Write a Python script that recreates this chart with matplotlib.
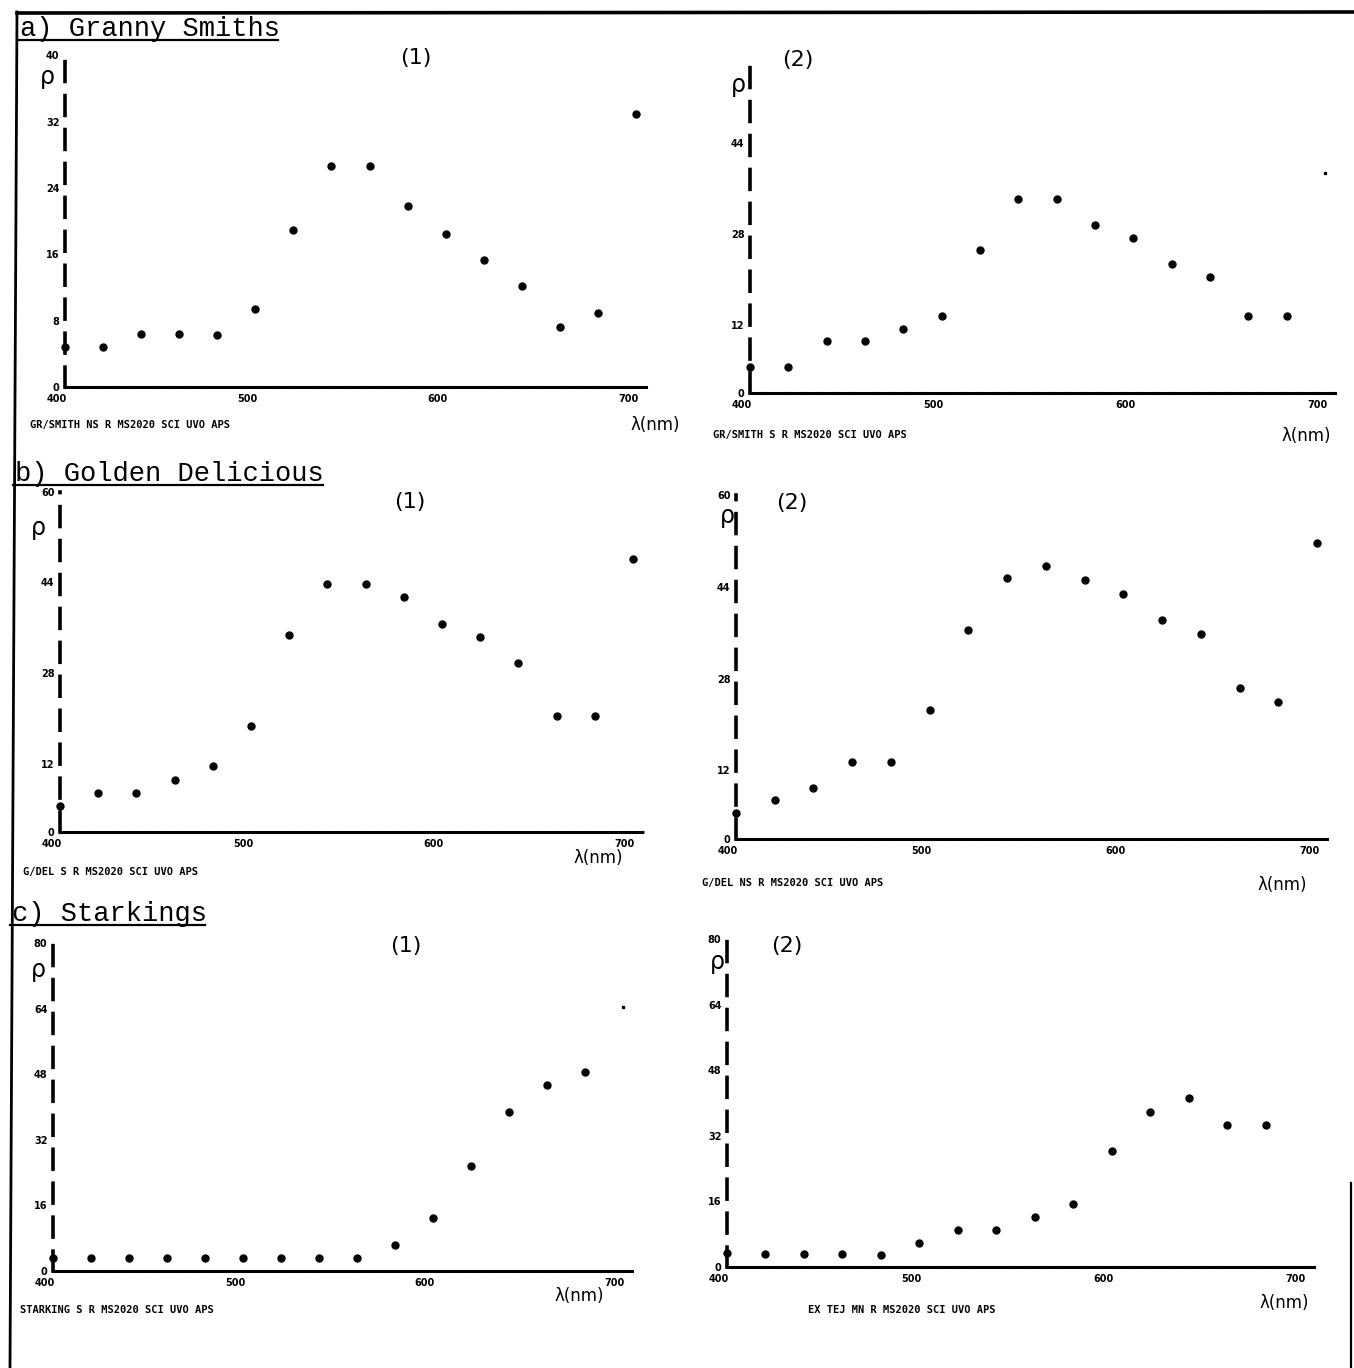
import matplotlib
matplotlib.use("Agg")
import matplotlib.pyplot as plt
from matplotlib.lines import Line2D
from matplotlib.transforms import ScaledTranslation

# ---------------- data ----------------
wavelengths = [400, 420, 440, 460, 480, 500, 520, 540, 560, 580, 600, 620, 640, 660, 680, 700]

granny_1 = [4.8, 4.8, 6.4, 6.4, 6.3, 9.4, 18.9, 26.7, 26.7, 21.8, 18.5, 15.3, 12.2, 7.3, 8.9, 32.9]
granny_2 = [4.7, 4.7, 9.2, 9.2, 11.3, 13.6, 25.2, 34.1, 34.1, 29.6, 27.2, 22.7, 20.4, 13.5, 13.5, 38.7]
golden_1 = [4.5, 6.9, 6.9, 9.2, 11.6, 18.7, 34.7, 43.7, 43.7, 41.4, 36.7, 34.4, 29.8, 20.5, 20.5, 48.2]
golden_2 = [4.5, 6.8, 9.0, 13.5, 13.5, 22.6, 36.4, 45.5, 47.7, 45.2, 42.8, 38.2, 35.8, 26.4, 24.0, 51.7]
stark_1 = [3.0, 3.0, 3.0, 3.0, 3.0, 3.0, 3.0, 3.0, 3.0, 6.4, 12.8, 25.7, 38.8, 45.3, 48.5, 64.4]
stark_2 = [3.3, 3.2, 3.2, 3.2, 2.9, 5.9, 9.0, 9.0, 12.2, 15.3, 28.3, 37.9, 41.1, 34.6, 34.6]

x_ticks = [400, 500, 600, 700]
yticks_granny_1 = [0, 8, 16, 24, 32, 40]
yticks_granny_2 = [0, 12, 28, 44]
yticks_golden = [0, 12, 28, 44, 60]
yticks_stark = [0, 16, 32, 48, 64, 80]

captions = [
    "GR/SMITH NS R MS2020 SCI UVO APS",
    "GR/SMITH S R MS2020 SCI UVO APS",
    "G/DEL S R MS2020 SCI UVO APS",
    "G/DEL NS R MS2020 SCI UVO APS",
    "STARKING S R MS2020 SCI UVO APS",
    "EX TEJ MN R MS2020 SCI UVO APS",
]
headers = ["a) Granny Smiths", "b) Golden Delicious", "c) Starkings"]

# ---------------- layout ----------------
W, H = 1354, 1368
fig = plt.figure(figsize=(W / 100, H / 100), dpi=100)
fig.patch.set_facecolor("white")


def fx(px):
    return px / W


def fy(py):
    return 1 - py / H


# panel geometry: (x at 400nm, x at 700nm, y at 0, y at top, ymax) in pixels
panels = [
    dict(vals=granny_1, yt=yticks_granny_1, geo=(65, 636, 387.3, 55.3, 40), num="(1)",
         num_xy=(416, 58), rho_xy=(47, 77), lam_xy=(655, 425), cap_xy=(30, 425), faint_last=False),
    dict(vals=granny_2, yt=yticks_granny_2, geo=(750, 1325, 393.3, 63, 58), num="(2)",
         num_xy=(798, 60), rho_xy=(738, 85), lam_xy=(1306, 436), cap_xy=(713, 435), faint_last=True),
    dict(vals=golden_1, yt=yticks_golden, geo=(60, 633, 831.7, 491.7, 60), num="(1)",
         num_xy=(410, 502), rho_xy=(38, 528), lam_xy=(598, 858), cap_xy=(23, 872), faint_last=False),
    dict(vals=golden_2, yt=yticks_golden, geo=(736, 1317, 839.3, 495, 60), num="(2)",
         num_xy=(792, 503), rho_xy=(727, 516), lam_xy=(1282, 885), cap_xy=(702, 883), faint_last=False),
    dict(vals=stark_1, yt=yticks_stark, geo=(53, 623, 1270.7, 943.3, 80), num="(1)",
         num_xy=(406, 946), rho_xy=(38, 970), lam_xy=(579, 1296), cap_xy=(20, 1310), faint_last=True),
    dict(vals=stark_2, yt=yticks_stark, geo=(727, 1304, 1266.7, 939.3, 80), num="(2)",
         num_xy=(787, 946), rho_xy=(717, 962), lam_xy=(1284, 1303), cap_xy=(808, 1310), faint_last=False),
]

tick_font = dict(family="DejaVu Sans", weight="bold", size=7)

for p, cap in zip(panels, captions):
    x400, x700, y0, ytop, ymax = p["geo"]
    ax = fig.add_axes([fx(x400), fy(y0), (x700 - x400) / W, (y0 - ytop) / H])
    ax.set_facecolor("none")
    ax.set_xlim(400, 700)
    ax.set_ylim(0, ymax)
    for s in ("top", "right"):
        ax.spines[s].set_visible(False)
    ax.spines["left"].set_linewidth(2.6)
    ax.spines["left"].set_linestyle((0, (5.5, 3.9)))
    ax.spines["bottom"].set_linewidth(2.2)
    ax.spines["bottom"].set_linestyle((0, (5, 0.8)))
    ax.spines["bottom"].set_bounds(400, 705)

    ax.set_xticks(x_ticks)
    ax.set_xticklabels([str(t) for t in x_ticks], fontdict=tick_font)
    ax.set_yticks(p["yt"])
    ax.set_yticklabels([str(t) for t in p["yt"]], fontdict=tick_font)
    ax.tick_params(axis="both", length=0)
    ax.tick_params(axis="x", pad=5)
    ax.tick_params(axis="y", pad=4)
    off = ScaledTranslation(-8 / 100, 0, fig.dpi_scale_trans)
    for lab in ax.get_xticklabels():
        lab.set_transform(lab.get_transform() + off)

    vals = p["vals"]
    wl = wavelengths[:len(vals)]
    if p["faint_last"]:
        ax.plot(wl[:-1], vals[:-1], "o", color="black", ms=5, ls="none", clip_on=False)
        ax.plot(wl[-1:], vals[-1:], "s", color="black", ms=1.8, ls="none", clip_on=False)
    else:
        ax.plot(wl, vals, "o", color="black", ms=5, ls="none", clip_on=False)

    fig.text(fx(p["num_xy"][0]), fy(p["num_xy"][1]), p["num"], ha="center", va="center",
             fontsize=16, family="DejaVu Sans", color="black")
    fig.text(fx(p["rho_xy"][0]), fy(p["rho_xy"][1]), "ρ", ha="center", va="center",
             fontsize=17, family="DejaVu Sans", color="black")
    fig.text(fx(p["lam_xy"][0]), fy(p["lam_xy"][1]), "λ(nm)", ha="center", va="center",
             fontsize=12, family="DejaVu Sans", color="black")
    fig.text(fx(p["cap_xy"][0]), fy(p["cap_xy"][1]), cap, ha="left", va="center",
             fontsize=7.5, family="DejaVu Sans Mono", weight="bold", color="black")

# headers with underline
header_pos = [(20, 36, 278), (15, 481, 323), (12, 921, 205)]
for txt, (hx, hy, hx2) in zip(headers, header_pos):
    fig.text(fx(hx), fy(hy), txt, ha="left", va="baseline", fontsize=19.5,
             family="Liberation Mono", color="black")
    fig.add_artist(Line2D([fx(hx - 2), fx(hx2)], [fy(hy + 4), fy(hy + 4)],
                          transform=fig.transFigure, color="black", lw=1.6))

# page frame (scanned border)
fig.add_artist(Line2D([fx(17), fx(1354)], [fy(13), fy(12)], transform=fig.transFigure,
                      color="black", lw=2.6))
fig.add_artist(Line2D([fx(17), fx(10)], [fy(12), fy(1368)], transform=fig.transFigure,
                      color="black", lw=2.0))
fig.add_artist(Line2D([fx(1351), fx(1351)], [fy(1183), fy(1368)], transform=fig.transFigure,
                      color="black", lw=1.6))

fig.savefig("out.png", dpi=100, facecolor="white")
